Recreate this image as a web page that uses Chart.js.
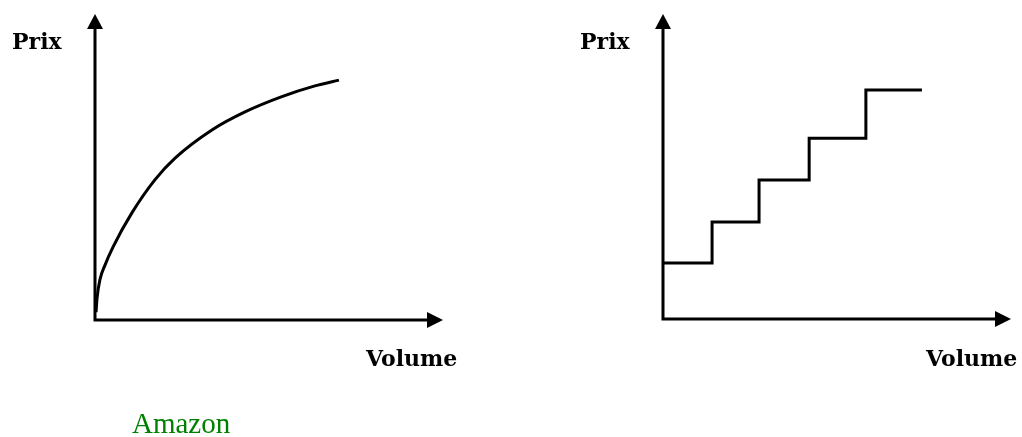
<!DOCTYPE html>
<html>
<head>
<meta charset="utf-8">
<script src="https://cdn.jsdelivr.net/npm/chart.js@4/dist/chart.umd.min.js"></script>
<style>
    body { margin: 0; background: #fff; }
    #wrap { position: relative; width: 1022px; height: 437px; overflow: hidden; }
    canvas { position: absolute; top: 0; }
    .lbl { position: absolute; font-family: "DejaVu Serif", serif; font-weight: bold; font-size: 22px; line-height: 1; color: #000; white-space: nowrap; }
    .src { position: absolute; font-family: "Liberation Serif", "Times New Roman", serif; font-size: 29px; line-height: 1; color: #008000; white-space: nowrap; }
</style>
</head>
<body>
<div id="wrap">
    <canvas id="myChart1" width="511" height="437" style="left:0"></canvas>
    <canvas id="myChart2" width="511" height="437" style="left:511px"></canvas>
    <div class="lbl" style="left:12px; top:30px">Prix</div>
    <div class="lbl" style="left:366px; top:347px">Volume</div>
    <div class="lbl" style="left:580px; top:30px">Prix</div>
    <div class="lbl" style="left:926px; top:347px">Volume</div>
    <div class="src" style="left:132px; top:409px">Amazon</div>
</div>
<script>
// left chart: price rises fast then flattens
const curveVolume = [0.03, 0.06, 0.14, 0.29, 0.52, 1.06, 1.72, 2.3, 3.36, 4.31, 5.37, 6.32, 7.01];
const curvePrice  = [0.26, 0.72, 1.31, 1.8, 2.39, 3.5, 4.58, 5.29, 6.21, 6.8, 7.3, 7.65, 7.84];

// right chart: price by volume tier (steps)
const stepVolume = [0, 1.41, 2.76, 4.2, 5.83, 7.44];
const stepPrice  = [1.84, 3.18, 4.56, 5.93, 7.51, 7.51];

const axisMax = 10;

// draws the two axes with arrow heads on the chart area edges
const arrowAxes = {
    id: 'arrowAxes',
    afterDraw(chart) {
        const ctx = chart.ctx;
        const a = chart.chartArea;
        ctx.save();
        ctx.strokeStyle = '#000';
        ctx.fillStyle = '#000';
        ctx.lineWidth = 3;
        ctx.lineCap = 'square';
        ctx.beginPath();
        ctx.moveTo(a.left, a.top + 14);
        ctx.lineTo(a.left, a.bottom);
        ctx.lineTo(a.right - 14, a.bottom);
        ctx.stroke();
        // y arrow
        ctx.beginPath();
        ctx.moveTo(a.left, a.top);
        ctx.lineTo(a.left - 8, a.top + 15);
        ctx.lineTo(a.left + 8, a.top + 15);
        ctx.closePath();
        ctx.fill();
        // x arrow
        ctx.beginPath();
        ctx.moveTo(a.right, a.bottom);
        ctx.lineTo(a.right - 16, a.bottom - 8);
        ctx.lineTo(a.right - 16, a.bottom + 8);
        ctx.closePath();
        ctx.fill();
        ctx.restore();
    }
};

function baseOptions(pad) {
    return {
        responsive: false,
        animation: false,
        layout: { padding: pad },
        plugins: { legend: { display: false }, tooltip: { enabled: false } },
        elements: { point: { radius: 0 } },
        scales: {
            x: { type: 'linear', min: 0, max: axisMax, display: false },
            y: { type: 'linear', min: 0, max: axisMax, display: false }
        }
    };
}

new Chart(document.getElementById('myChart1'), {
    type: 'line',
    data: {
        datasets: [{
            data: curveVolume.map((v, i) => ({x: v, y: curvePrice[i]})),
            borderColor: '#000',
            borderWidth: 3,
            cubicInterpolationMode: 'monotone',
            fill: false,
            clip: false
        }]
    },
    options: baseOptions({left: 95, right: 68, top: 14, bottom: 117}),
    plugins: [arrowAxes]
});

new Chart(document.getElementById('myChart2'), {
    type: 'line',
    data: {
        datasets: [{
            data: stepVolume.map((v, i) => ({x: v, y: stepPrice[i]})),
            borderColor: '#000',
            borderWidth: 3,
            stepped: 'before',
            fill: false,
            clip: false
        }]
    },
    options: baseOptions({left: 152, right: 11, top: 14, bottom: 118}),
    plugins: [arrowAxes]
});
</script>
</body>
</html>
